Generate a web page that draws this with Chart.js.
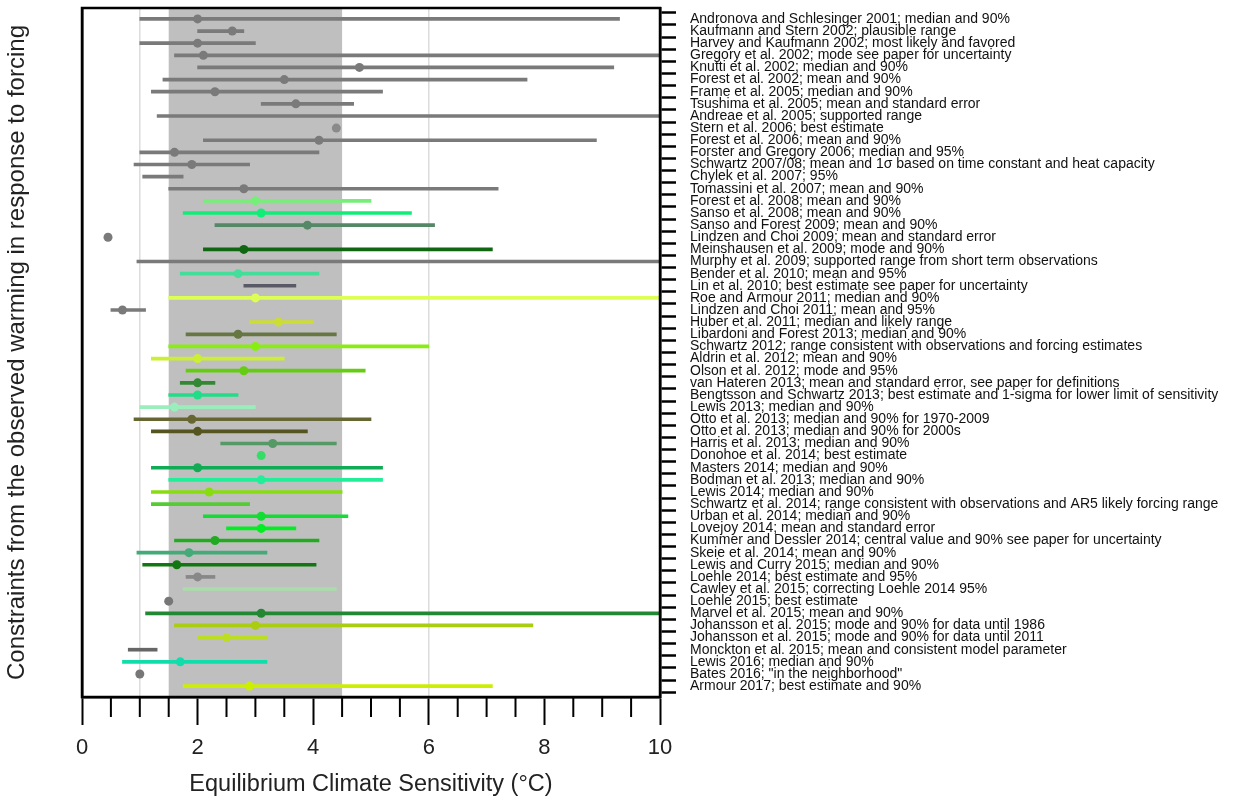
<!DOCTYPE html>
<html>
<head>
<meta charset="utf-8">
<script src="https://cdn.jsdelivr.net/npm/chart.js@4.4.1/dist/chart.umd.min.js"></script>
<style>
  body { margin: 0; background: #fff; }
  #wrap { width: 1240px; height: 803px; }
</style>
</head>
<body>
<div id="wrap"><canvas id="myChart"></canvas></div>
<script>
var studies = [
    'Andronova and Schlesinger 2001; median and 90%',
    'Kaufmann and Stern 2002; plausible range',
    'Harvey and Kaufmann 2002; most likely and favored',
    'Gregory et al. 2002; mode see paper for uncertainty',
    'Knutti et al. 2002; median and 90%',
    'Forest et al. 2002; mean and 90%',
    'Frame et al. 2005; median and 90%',
    'Tsushima et al. 2005; mean and standard error',
    'Andreae et al. 2005; supported range',
    'Stern et al. 2006; best estimate',
    'Forest et al. 2006; mean and 90%',
    'Forster and Gregory 2006; median and 95%',
    'Schwartz 2007/08; mean and 1σ based on time constant and heat capacity',
    'Chylek et al. 2007; 95%',
    'Tomassini et al. 2007; mean and 90%',
    'Forest et al. 2008; mean and 90%',
    'Sanso et al. 2008; mean and 90%',
    'Sanso and Forest 2009; mean and 90%',
    'Lindzen and Choi 2009; mean and standard error',
    'Meinshausen et al. 2009; mode and 90%',
    'Murphy et al. 2009; supported range from short term observations',
    'Bender et al. 2010; mean and 95%',
    'Lin et al. 2010; best estimate see paper for uncertainty',
    'Roe and Armour 2011; median and 90%',
    'Lindzen and Choi 2011; mean and 95%',
    'Huber et al. 2011; median and likely range',
    'Libardoni and Forest 2013; median and 90%',
    'Schwartz 2012; range consistent with observations and forcing estimates',
    'Aldrin et al. 2012; mean and 90%',
    'Olson et al. 2012; mode and 95%',
    'van Hateren 2013; mean and standard error, see paper for definitions',
    'Bengtsson and Schwartz 2013; best estimate and 1-sigma for lower limit of sensitivity',
    'Lewis 2013; median and 90%',
    'Otto et al. 2013; median and 90% for 1970-2009',
    'Otto et al. 2013; median and 90% for 2000s',
    'Harris et al. 2013; median and 90%',
    'Donohoe et al. 2014; best estimate',
    'Masters 2014; median and 90%',
    'Bodman et al. 2013; median and 90%',
    'Lewis 2014; median and 90%',
    'Schwartz et al. 2014; range consistent with observations and AR5 likely forcing range',
    'Urban et al. 2014; median and 90%',
    'Lovejoy 2014; mean and standard error',
    'Kummer and Dessler 2014; central value and 90% see paper for uncertainty',
    'Skeie et al. 2014; mean and 90%',
    'Lewis and Curry 2015; median and 90%',
    'Loehle 2014; best estimate and 95%',
    'Cawley et al. 2015; correcting Loehle 2014 95%',
    'Loehle 2015; best estimate',
    'Marvel et al. 2015; mean and 90%',
    'Johansson et al. 2015; mode and 90% for data until 1986',
    'Johansson et al. 2015; mode and 90% for data until 2011',
    'Monckton et al. 2015; mean and consistent model parameter',
    'Lewis 2016; median and 90%',
    'Bates 2016; "in the neighborhood"',
    'Armour 2017; best estimate and 90%'
];

// lower end of range (null = no range given)
var low = [1.0, 2.0, 1.0, 1.6, 2.0, 1.4, 1.2, 3.1, 1.3, null,
           2.1, 1.0, 0.9, 1.05, 1.5, 2.1, 1.75, 2.3, null, 2.1,
           0.95, 1.7, 2.8, 1.5, 0.5, 2.9, 1.8, 1.5, 1.2, 1.8,
           1.7, 1.5, 1.0, 0.9, 1.2, 2.4, null, 1.2, 1.5, 1.2,
           1.2, 2.1, 2.5, 1.6, 0.95, 1.05, 1.8, 1.75, null, 1.1,
           1.6, 2.0, 0.8, 0.7, null, 1.75];
// upper end of range
var high = [9.3, 2.8, 3.0, 10, 9.2, 7.7, 5.2, 4.7, 10, null,
            8.9, 4.1, 2.9, 1.75, 7.2, 5.0, 5.7, 6.1, null, 7.1,
            10, 4.1, 3.7, 10, 1.1, 4.0, 4.4, 6.0, 3.5, 4.9,
            2.3, 2.7, 3.0, 5.0, 3.9, 4.4, null, 5.2, 5.2, 4.5,
            2.9, 4.6, 3.7, 4.1, 3.2, 4.05, 2.3, 4.4, null, 10,
            7.8, 3.2, 1.3, 3.2, null, 7.1];
// best estimate (null = none shown)
var best = [2.0, 2.6, 2.0, 2.1, 4.8, 3.5, 2.3, 3.7, null, 4.4,
            4.1, 1.6, 1.9, null, 2.8, 3.0, 3.1, 3.9, 0.45, 2.8,
            null, 2.7, null, 3.0, 0.7, 3.4, 2.7, 3.0, 2.0, 2.8,
            2.0, 2.0, 1.6, 1.9, 2.0, 3.3, 3.1, 2.0, 3.1, 2.2,
            null, 3.1, 3.1, 2.3, 1.85, 1.64, 2.0, null, 1.5, 3.1,
            3.0, 2.5, null, 1.7, 1.0, 2.9];

var colors = [
    '#7a7a7a', '#7a7a7a', '#7a7a7a', '#7a7a7a', '#7a7a7a', '#7a7a7a', '#7a7a7a', '#7a7a7a', '#7a7a7a', '#8a8a8a',
    '#7a7a7a', '#7a7a7a', '#7a7a7a', '#7a7a7a', '#7a7a7a', '#77ee77', '#11ee77', '#558866', '#7a7a7a', '#116611',
    '#7a7a7a', '#44dd99', '#5a5a66', '#ddff55', '#7a7a7a', '#ccdd33', '#667744', '#88ee11', '#ccee33', '#66cc11',
    '#338833', '#22dd88', '#99eebb', '#666633', '#555522', '#559966', '#33dd66', '#11aa55', '#22ee99', '#88dd11',
    '#55cc33', '#11dd33', '#00ee22', '#22aa22', '#44aa77', '#117711', '#888888', '#aaddaa', '#777777', '#228833',
    '#aacc11', '#bbdd22', '#666666', '#11ddaa', '#777777', '#ccee00'
];

var xTicks = [0, 2, 4, 6, 8, 10];
var xMinorTicks = [0.5, 1, 1.5, 2.5, 3, 3.5, 4.5, 5, 5.5, 6.5, 7, 7.5, 8.5, 9, 9.5];
var likelyRange = [1.5, 4.5];
var refLines = [1, 6];

var ranges = [], rangeColors = [], points = [], pointColors = [];
studies.forEach(function (s, i) {
    if (low[i] !== null) {
        ranges.push({ x: [low[i], high[i]], y: i });
        rangeColors.push(colors[i]);
    }
    if (best[i] !== null) {
        points.push({ x: best[i], y: i });
        pointColors.push(colors[i]);
    }
});

// shaded likely range, faint reference lines, frame and minor ticks
var extras = {
    id: 'extras',
    beforeDatasetsDraw: function (chart) {
        var ctx = chart.ctx, a = chart.chartArea, xs = chart.scales.x;
        ctx.save();
        ctx.strokeStyle = '#dcdcdc';
        ctx.lineWidth = 1.5;
        refLines.forEach(function (v) {
            var px = xs.getPixelForValue(v);
            ctx.beginPath();
            ctx.moveTo(px, a.top);
            ctx.lineTo(px, a.bottom);
            ctx.stroke();
        });
        var x0 = xs.getPixelForValue(likelyRange[0]);
        var x1 = xs.getPixelForValue(likelyRange[1]);
        ctx.fillStyle = '#bfbfbf';
        ctx.fillRect(x0, a.top, x1 - x0, a.bottom - a.top);
        ctx.restore();
    },
    afterDraw: function (chart) {
        var ctx = chart.ctx, a = chart.chartArea, xs = chart.scales.x;
        ctx.save();
        ctx.strokeStyle = '#000';
        ctx.lineWidth = 2.5;
        ctx.strokeRect(a.left, a.top, a.right - a.left, a.bottom - a.top);
        ctx.lineWidth = 2;
        xMinorTicks.forEach(function (v) {
            var px = xs.getPixelForValue(v);
            ctx.beginPath();
            ctx.moveTo(px, a.bottom);
            ctx.lineTo(px, a.bottom + 20);
            ctx.stroke();
        });
        ctx.restore();
    }
};

Chart.defaults.font.family = '"Liberation Sans", Arial, sans-serif';

var ctx = document.getElementById('myChart').getContext('2d');
var myChart = new Chart(ctx, {
    type: 'bar',
    data: {
        datasets: [
            {
                type: 'scatter',
                data: points,
                pointBackgroundColor: pointColors,
                pointBorderWidth: 0,
                pointRadius: 4.5,
                xAxisID: 'x',
                yAxisID: 'y',
                order: 0
            },
            {
                type: 'bar',
                indexAxis: 'y',
                data: ranges,
                backgroundColor: rangeColors,
                barThickness: 3,
                borderWidth: 0,
                xAxisID: 'x',
                yAxisID: 'y',
                order: 1
            }
        ]
    },
    options: {
        responsive: true,
        maintainAspectRatio: false,
        animation: false,
        layout: { padding: { top: 8, right: 0, bottom: 0, left: 0 } },
        plugins: {
            legend: { display: false },
            tooltip: { enabled: false }
        },
        scales: {
            x: {
                type: 'linear',
                position: 'bottom',
                offset: false,
                min: 0,
                max: 10,
                afterBuildTicks: function (s) {
                    s.ticks = xTicks.map(function (v) { return { value: v }; });
                },
                afterFit: function (s) { s.height = 106; },
                grid: { offset: false, drawOnChartArea: false, tickLength: 28, tickColor: '#000', tickWidth: 2 },
                border: { color: '#000', width: 2.5 },
                ticks: { font: { size: 22 }, color: '#222', padding: 10, maxRotation: 0 },
                title: {
                    display: true,
                    text: 'Equilibrium Climate Sensitivity (°C)',
                    font: { size: 23.5 },
                    color: '#222',
                    padding: { top: 0, bottom: 4 }
                }
            },
            y: {
                type: 'linear',
                position: 'right',
                offset: false,
                reverse: true,
                min: -0.9,
                max: studies.length - 0.1,
                afterBuildTicks: function (s) {
                    s.ticks = studies.map(function (t, i) { return { value: i }; });
                },
                afterFit: function (s) {
                    s.width = 580;
                    s.paddingTop = 0;
                    s.paddingBottom = 0;
                },
                grid: { drawOnChartArea: false, tickLength: 16, tickColor: '#000', tickWidth: 2.5 },
                border: { color: '#000', width: 2.5 },
                ticks: {
                    autoSkip: false,
                    padding: 14,
                    color: '#111',
                    font: { size: 14, lineHeight: 1 },
                    callback: function (v) { return studies[v]; }
                }
            },
            yl: {
                type: 'linear',
                position: 'left',
                min: 0,
                max: 1,
                afterFit: function (s) { s.width = 82; },
                grid: { display: false },
                border: { color: '#000', width: 2.5 },
                ticks: { display: false },
                title: {
                    display: true,
                    text: 'Constraints from the observed warming in response to forcing',
                    font: { size: 24 },
                    color: '#222',
                    padding: { top: 3, bottom: 0 }
                }
            }
        }
    },
    plugins: [extras]
});
</script>
</body>
</html>
